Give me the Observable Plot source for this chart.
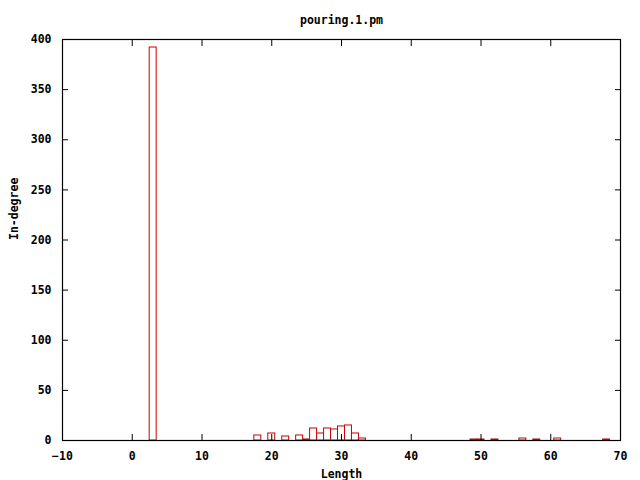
<!DOCTYPE html>
<html>
<head>
<meta charset="utf-8">
<script src="https://cdn.jsdelivr.net/npm/d3@7"></script>
<script src="https://cdn.jsdelivr.net/npm/@observablehq/plot@0.6"></script>
<style>
  html, body { margin: 0; padding: 0; background: #fff; }
  svg { display: block; }
</style>
</head>
<body>
<div id="chart"></div>
<script>
const lengths = [3, 18, 20, 22, 24, 25, 26, 27, 28, 29, 30, 31, 32, 33, 49, 50, 52, 56, 58, 61, 68];
const inDegree = [392, 5, 7, 4, 5, 1, 12, 7, 12, 11, 14, 15, 7, 2, 1, 1, 1, 2, 1, 2, 1];
const xTicks = [-10, 0, 10, 20, 30, 40, 50, 60, 70];
const yTicks = [0, 50, 100, 150, 200, 250, 300, 350, 400];
const titleText = "pouring.1.pm";
const xLabel = "Length";
const yLabel = "In-degree";

const data = lengths.map((len, i) => ({len, count: inDegree[i]}));
const font = "'DejaVu Sans Mono', monospace";

const chart = Plot.plot({
  width: 640,
  height: 480,
  marginLeft: 62,
  marginRight: 20,
  marginTop: 39,
  marginBottom: 40,
  style: {fontFamily: font, fontSize: "11.5px", fontWeight: "bold", background: "#fff", color: "#000"},
  x: {domain: [-10, 70], ticks: xTicks},
  y: {domain: [0, 400], ticks: yTicks},
  marks: [
    Plot.rectY(data, {
      x1: d => d.len - 0.5,
      x2: d => d.len + 0.5,
      y: "count",
      fill: "white",
      stroke: "#cc0000",
      strokeWidth: 1
    }),
    Plot.frame({stroke: "#000", strokeWidth: 1.2}),
    Plot.axisX({anchor: "bottom", ticks: xTicks, tickSize: -6, text: null, label: null, stroke: "#000"}),
    Plot.axisX({anchor: "top", ticks: xTicks, tickSize: -6, text: null, label: null, stroke: "#000"}),
    Plot.axisY({anchor: "left", ticks: yTicks, tickSize: -6, text: null, label: null, stroke: "#000"}),
    Plot.axisY({anchor: "right", ticks: yTicks, tickSize: -6, text: null, label: null, stroke: "#000"}),
    Plot.axisX({anchor: "bottom", ticks: xTicks, tickSize: 0, tickPadding: 9, dy: 2, label: null, fill: "#000"}),
    Plot.axisY({anchor: "left", ticks: yTicks, tickSize: 0, tickPadding: 11, label: null, fill: "#000"}),
    Plot.text([xLabel], {frameAnchor: "bottom", dy: 37, text: d => d, fill: "#000"}),
    Plot.text([yLabel], {frameAnchor: "left", dx: -48, rotate: -90, text: d => d, fill: "#000"}),
    Plot.text([titleText], {frameAnchor: "top", dy: -24, text: d => d, fill: "#000"})
  ]
});
document.getElementById("chart").append(chart);
</script>
</body>
</html>
